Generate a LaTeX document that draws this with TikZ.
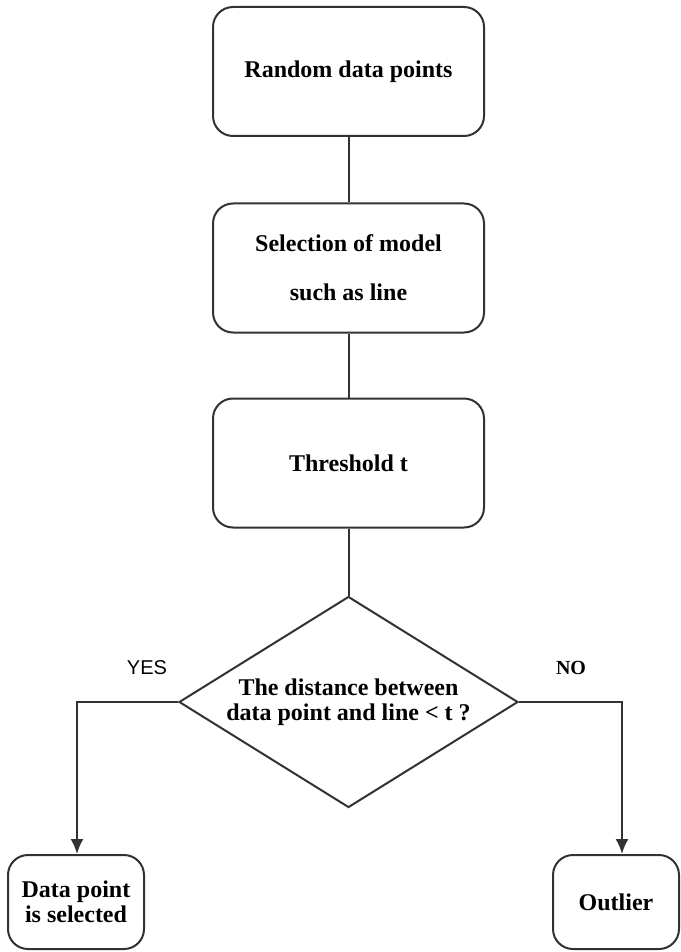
\documentclass[tikz,border=0pt]{standalone}
\usepackage{fontspec}
\setmainfont{Liberation Serif}
\setsansfont{Liberation Sans}
\usetikzlibrary{shapes.geometric,arrows.meta,positioning}
\definecolor{linegray}{RGB}{50,50,50}

\tikzset{
    stepbox/.style={draw=linegray, line width=1pt, rounded corners=10pt, align=center,
        font=\fontsize{12}{12.5}\selectfont\bfseries, inner sep=2pt},
    decision/.style={diamond, draw=linegray, line width=1pt, aspect=1.6, align=center,
        font=\fontsize{12}{12.5}\selectfont\bfseries, inner sep=0pt,
        minimum width=169.5pt, minimum height=105.5pt},
    link/.style={draw=linegray, line width=1pt},
    branch/.style={link, -{Latex[length=7.5pt,width=6.5pt]}}
}

\begin{document}
\begin{tikzpicture}[x=0.5pt,y=-0.5pt]
    \useasboundingbox (0,0) rectangle (680,952);

    % Main chain
    \node[stepbox, minimum width=135.5pt, minimum height=64.5pt] (rand) at (348.5,71.5) {Random data points};
    \node[stepbox, minimum width=135.5pt, minimum height=64.5pt] (model) at (348.5,268) {Selection of model\\[12pt]such as line};
    \node[stepbox, minimum width=135.5pt, minimum height=64.5pt] (thresh) at (348.5,463) {Threshold t};

    % Test
    \node[decision] (dist) at (348.5,702) {The distance between\\data point and line < t ?};

    % Outcomes
    \node[stepbox, minimum width=68pt, minimum height=47pt] (sel) at (76,902) {Data point\\is selected};
    \node[stepbox, minimum width=63pt, minimum height=47pt] (outl) at (616,902) {Outlier};

    \node[font=\sffamily\fontsize{10}{12}\selectfont] (yes) at (147,668) {YES};
    \node[font=\fontsize{10}{12}\selectfont\bfseries] (no) at (571,668) {NO};

    % Connectors
    \draw[link] (rand.south) -- (model.north);
    \draw[link] (model.south) -- (thresh.north);
    \draw[link] (thresh.south) -- (dist.north);
    \draw[branch] (dist.west) -| ([xshift=0.5pt]sel.north);
    \draw[branch] (dist.east) -| ([xshift=3pt]outl.north);
\end{tikzpicture}
\end{document}
